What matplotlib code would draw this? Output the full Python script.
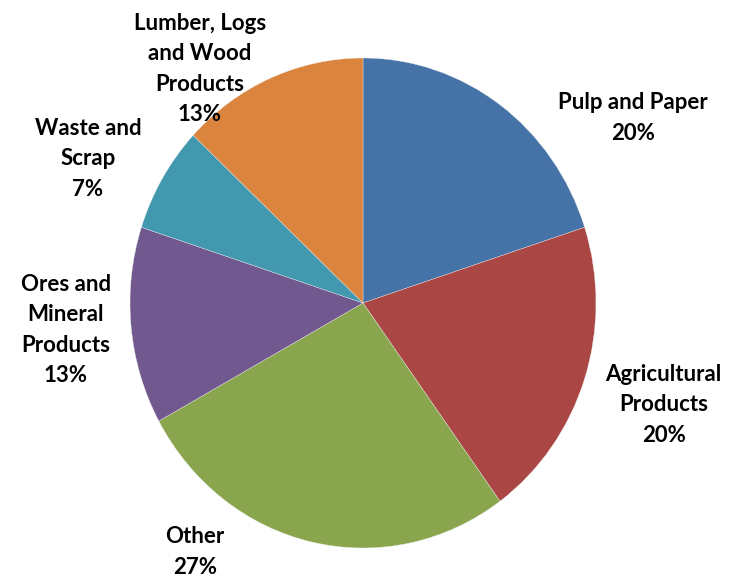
import matplotlib.pyplot as plt

# Freight share by commodity
categories = ['Pulp and Paper', 'Agricultural\nProducts', 'Other',
              'Ores and\nMineral\nProducts', 'Waste and\nScrap',
              'Lumber, Logs\nand Wood\nProducts']
shares = [20, 20, 27, 13, 7, 13]
colors = ['#4572A7', '#AA4643', '#89A54E', '#71588F', '#4198AF', '#DB843D']

# label anchor points, in pie-radius units
label_pos = [(1.16, 0.755), (1.29, -0.416), (-0.72, -1.016),
             (-1.275, -0.11), (-1.18, 0.588), (-0.70, 0.955)]

W, H = 733, 577
fig = plt.figure(figsize=(W / 100, H / 100), dpi=100)
cx, cy, rx, ry = 363, 303, 233, 245
ax = fig.add_axes([(cx - rx) / W, (H - cy - ry) / H, 2 * rx / W, 2 * ry / H])

ax.pie(shares, colors=colors, startangle=90, counterclock=False,
       wedgeprops=dict(edgecolor='#f0f0f0', linewidth=0.25))
ax.set_aspect('auto')
ax.set_xlim(-1, 1)
ax.set_ylim(-1, 1)
ax.axis('off')

for name, val, (x, y) in zip(categories, shares, label_pos):
    ax.text(x, y, f'{name}\n{val}%', ha='center', va='center',
            fontsize=16, fontweight='bold', family='Lato',
            linespacing=1.55, clip_on=False)

fig.savefig('out.png', dpi=100)
